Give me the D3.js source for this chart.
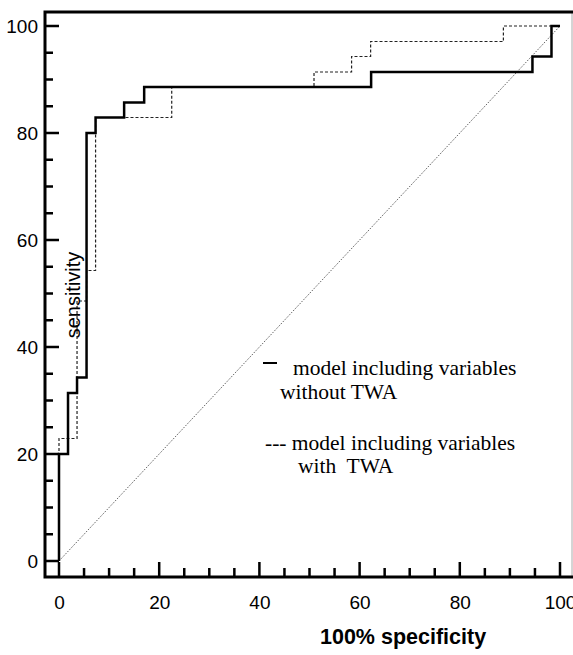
<!DOCTYPE html>
<html>
<head>
<meta charset="utf-8">
<script src="https://cdn.jsdelivr.net/npm/d3@7"></script>
<style>
  body { margin: 0; background: #fff; }
  svg { display: block; }
  .tick text { font-family: "Liberation Sans", Arial, sans-serif; font-size: 19px; fill: #000; }
</style>
</head>
<body>
<div id="chart"></div>
<script>
// ROC curves, x = 100 - specificity, y = sensitivity (step points, change happens at x)
var withoutTwaX = [0, 0, 1.8, 3.6, 5.5, 7.3, 13, 17, 62.3, 94.5, 98.3, 100];
var withoutTwaY = [0, 20, 31.4, 34.3, 80, 82.9, 85.7, 88.6, 91.4, 94.3, 100, 100];
var withTwaX = [0, 0, 3.6, 5.5, 7.3, 22.5, 50.9, 58.4, 62.2, 88.7, 100];
var withTwaY = [0, 22.9, 48.6, 54.3, 82.9, 88.6, 91.4, 94.3, 97.1, 100, 100];
var majorTicks = [0, 20, 40, 60, 80, 100];
var minorTicks = [5, 10, 15, 25, 30, 35, 45, 50, 55, 65, 70, 75, 85, 90, 95];
var legendLabels = [["model including variables", "without TWA"], ["model including variables", "with  TWA"]];

var width = 573, height = 655;
var box = { left: 45, top: 12, right: 572, bottom: 577 };

var svg = d3.select("#chart").append("svg")
  .attr("width", width)
  .attr("height", height);

var x = d3.scaleLinear().domain([0, 100]).range([59, 560]);
var y = d3.scaleLinear().domain([0, 100]).range([561, 26]);

///////////////////// tick labels /////////////////////
svg.append("g")
  .attr("transform", "translate(" + box.left + ",0)")
  .call(d3.axisLeft(y).tickValues(majorTicks).tickSize(0).tickPadding(7))
  .call(cleanAxis);
svg.append("g")
  .attr("transform", "translate(0," + box.bottom + ")")
  .call(d3.axisBottom(x).tickValues(majorTicks).tickSize(0).tickPadding(19))
  .call(cleanAxis);

function cleanAxis(g) {
  g.select(".domain").remove();
  g.selectAll(".tick line").remove();
  g.attr("font-size", null).attr("font-family", null);
}

///////////////////// reference diagonal /////////////////////
svg.append("line")
  .attr("x1", x(0)).attr("y1", y(0))
  .attr("x2", x(100)).attr("y2", y(100))
  .attr("stroke", "#333").attr("stroke-width", 1)
  .attr("stroke-dasharray", "1,1.5");

///////////////////// curves /////////////////////
var stepLine = d3.line()
  .x(function(d) { return x(d[0]); })
  .y(function(d) { return y(d[1]); })
  .curve(d3.curveStepAfter);

svg.append("path")
  .datum(d3.zip(withTwaX, withTwaY))
  .attr("d", stepLine)
  .attr("fill", "none")
  .attr("stroke", "#222")
  .attr("stroke-width", 1.2)
  .attr("stroke-dasharray", "3,2");

svg.append("path")
  .datum(d3.zip(withoutTwaX, withoutTwaY))
  .attr("d", stepLine)
  .attr("fill", "none")
  .attr("stroke", "#000")
  .attr("stroke-width", 2.5);

///////////////////// frame + tick marks /////////////////////
svg.append("line").attr("x1", box.right).attr("x2", box.right)
  .attr("y1", box.top).attr("y2", box.bottom)
  .attr("stroke", "#aaa").attr("stroke-width", 1);

var tickMarks = majorTicks.map(function(v) { return { v: v, len: 14 }; })
  .concat(minorTicks.map(function(v) { return { v: v, len: 8 }; }));

// ticks as small filled bars
svg.append("g").selectAll("rect")
  .data(tickMarks)
  .enter().append("rect")
    .attr("x", box.left)
    .attr("y", function(d) { return y(d.v) - 1.25; })
    .attr("width", function(d) { return d.len; })
    .attr("height", 2.5)
    .attr("fill", "#000");

svg.append("g").selectAll("rect")
  .data(tickMarks)
  .enter().append("rect")
    .attr("x", function(d) { return x(d.v) - 1.25; })
    .attr("y", function(d) { return box.bottom - d.len - 1; })
    .attr("width", 2.5)
    .attr("height", function(d) { return d.len + 1; })
    .attr("fill", "#000");

var framePath = d3.path();
framePath.moveTo(width, box.top);
framePath.lineTo(box.left, box.top);
framePath.lineTo(box.left, box.bottom);
framePath.lineTo(width, box.bottom);
svg.append("path")
  .attr("d", framePath.toString())
  .attr("fill", "none")
  .attr("stroke", "#000")
  .attr("stroke-width", 3);

///////////////////// labels /////////////////////
svg.append("text")
  .attr("transform", "translate(80,295) rotate(-90)")
  .attr("text-anchor", "middle")
  .attr("font-family", "'Liberation Sans', Arial, sans-serif")
  .attr("font-size", 20)
  .text("sensitivity");

svg.append("text")
  .attr("x", 320).attr("y", 644)
  .attr("font-family", "'Liberation Sans', Arial, sans-serif")
  .attr("font-weight", "bold")
  .attr("font-size", 21.5)
  .text("100% specificity");

///////////////////// legend /////////////////////
var serif = "'Liberation Serif', 'Times New Roman', serif";
svg.append("line")
  .attr("x1", 263).attr("x2", 277).attr("y1", 363).attr("y2", 363)
  .attr("stroke", "#000").attr("stroke-width", 2);
svg.append("text").attr("x", 293).attr("y", 375)
  .attr("font-family", serif).attr("font-size", 21.5)
  .text(legendLabels[0][0]);
svg.append("text").attr("x", 280).attr("y", 399)
  .attr("font-family", serif).attr("font-size", 21.5)
  .text(legendLabels[0][1]);
svg.append("text").attr("x", 265).attr("y", 450)
  .attr("font-family", serif).attr("font-size", 21.5)
  .style("white-space", "pre")
  .text("--- " + legendLabels[1][0]);
svg.append("text").attr("x", 298).attr("y", 473)
  .attr("font-family", serif).attr("font-size", 21.5)
  .style("white-space", "pre")
  .text(legendLabels[1][1]);
</script>
</body>
</html>
